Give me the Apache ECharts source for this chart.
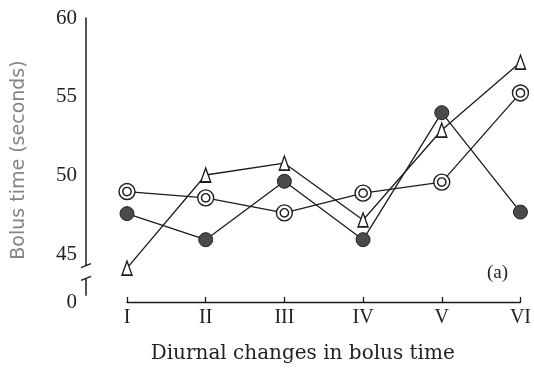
<!DOCTYPE html>
<html>
<head>
<meta charset="utf-8">
<script src="https://cdn.jsdelivr.net/npm/echarts@6/dist/echarts.min.js"></script>
<style>
  html, body { margin: 0; padding: 0; background: #fff; }
  #main { width: 534px; height: 369px; }
</style>
</head>
<body>
<div id="main"></div>
<script>
// diurnal bolus time, three groups
var categories = ['I', 'II', 'III', 'IV', 'V', 'VI']
var openCircle = [49.0, 48.6, 47.65, 48.9, 49.6, 55.25]
var filledCircle = [47.6, 45.95, 49.65, 45.95, 54.0, 47.7]
var triangle = [44.15, 50.05, 50.8, 47.2, 52.9, 57.2]
var yLabelValues = [42, 45, 50, 55, 60]
var yTickValues = [45, 50, 55, 60]

var lineColor = '#1c1c1c'
var doubleRing = 'path://M0,-8A8,8 0 1,1 0,8A8,8 0 1,1 0,-8Z M0,-4.2A4.2,4.2 0 1,1 0,4.2A4.2,4.2 0 1,1 0,-4.2Z'

var myChart = echarts.init(document.getElementById('main'))

function makeSeries(name, data, symbol, size, itemStyle) {
  return {
    name: name,
    type: 'line',
    data: data,
    symbol: symbol,
    symbolSize: size,
    showAllSymbol: true,
    lineStyle: { color: lineColor, width: 1.3 },
    itemStyle: itemStyle
  }
}

var option = {
  animation: false,
  backgroundColor: '#fff',
  title: {
    text: '(a)',
    left: 482,
    top: 259,
    textStyle: { fontFamily: 'Liberation Serif', fontSize: 19, fontWeight: 'normal', color: '#222' }
  },
  grid: { left: 127, right: 12, top: 18, bottom: 67 },
  xAxis: {
    type: 'category',
    data: categories,
    boundaryGap: false,
    axisLine: { lineStyle: { color: lineColor, width: 1.3 } },
    axisTick: { inside: true, length: 5, lineStyle: { color: lineColor, width: 1.3 } },
    axisLabel: { fontFamily: 'Liberation Serif', fontSize: 20, color: '#222', margin: 6 },
    name: 'Diurnal changes in bolus time',
    nameLocation: 'middle',
    nameGap: 42,
    nameTextStyle: { fontFamily: 'DejaVu Serif', fontSize: 20, color: '#222', padding: [0, 42, 0, 0] },
    splitLine: { show: false }
  },
  yAxis: {
    type: 'value',
    min: 42,
    max: 60,
    offset: 41,
    axisLine: { show: true, lineStyle: { color: lineColor, width: 1.5 } },
    axisTick: { inside: true, length: 6, customValues: yTickValues, lineStyle: { color: lineColor, width: 1.3 } },
    axisLabel: {
      customValues: yLabelValues,
      fontFamily: 'Liberation Serif',
      fontSize: 21,
      color: '#222',
      margin: 9,
      formatter: function(v) { return v === 42 ? '0' : String(v) }
    },
    splitLine: { show: false },
    name: 'Bolus time (seconds)',
    nameLocation: 'middle',
    nameGap: 57,
    nameTextStyle: { fontFamily: 'DejaVu Sans', fontSize: 19, color: '#858585' }
  },
  series: [
    makeSeries('open', openCircle, doubleRing, 16, { color: '#fff', borderColor: lineColor, borderWidth: 1.4 }),
    makeSeries('filled', filledCircle, 'circle', 14, { color: '#4a4a4a', borderColor: '#222', borderWidth: 1 }),
    makeSeries('triangle', triangle, 'triangle', [10, 14], { color: '#fff', borderColor: lineColor, borderWidth: 1.5 })
  ]
}

myChart.setOption(option)

// axis break marks on the y axis
var axisX = 127 - 41
var yCutTop = myChart.convertToPixel({ yAxisIndex: 0 }, 44.3)
var yCutBot = myChart.convertToPixel({ yAxisIndex: 0 }, 43.5)
var yEndTop = myChart.convertToPixel({ yAxisIndex: 0 }, 42.4)
var yEndBot = myChart.convertToPixel({ yAxisIndex: 0 }, 41.9)
myChart.setOption({
  graphic: [
    { type: 'rect', shape: { x: axisX - 3, y: yCutTop, width: 6, height: yCutBot - yCutTop }, style: { fill: '#fff' }, z: 100 },
    { type: 'rect', shape: { x: axisX - 3, y: yEndTop, width: 6, height: yEndBot - yEndTop }, style: { fill: '#fff' }, z: 100 },
    { type: 'line', shape: { x1: axisX - 5, y1: yCutTop + 2, x2: axisX + 5, y2: yCutTop - 2 }, style: { stroke: lineColor, lineWidth: 1.3 }, z: 101 },
    { type: 'line', shape: { x1: axisX - 5, y1: yCutBot + 2, x2: axisX + 5, y2: yCutBot - 2 }, style: { stroke: lineColor, lineWidth: 1.3 }, z: 101 }
  ]
})
</script>
</body>
</html>
